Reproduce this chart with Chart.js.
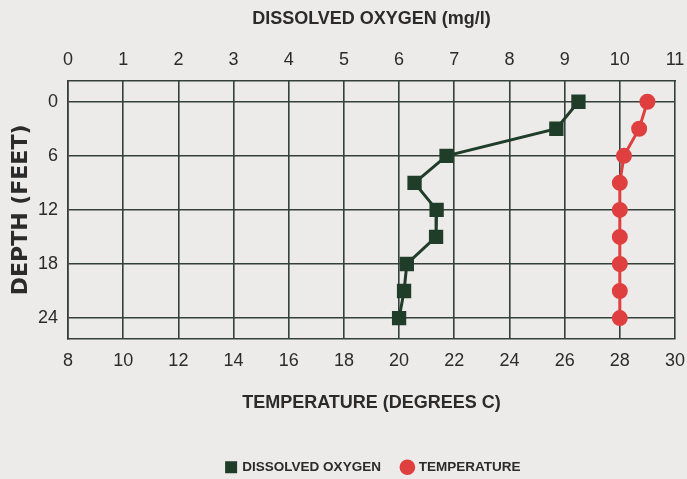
<!DOCTYPE html>
<html>
<head>
<meta charset="utf-8">
<script src="https://cdn.jsdelivr.net/npm/chart.js@4/dist/chart.umd.min.js"></script>
<style>
  html, body { margin: 0; padding: 0; background: #ecebea; }
  #wrap { width: 687px; height: 479px; position: relative; }
</style>
</head>
<body>
<div id="wrap"><canvas id="depth-chart"></canvas></div>
<script>
  // depth profile: oxygen on the top axis, temperature on the bottom one
  const depths = [0, 3, 6, 9, 12, 15, 18, 21, 24];
  const oxygen = [9.25, 8.85, 6.86, 6.28, 6.68, 6.67, 6.14, 6.09, 6.0];
  const temperature = [29.0, 28.7, 28.15, 28.0, 28.0, 28.0, 28.0, 28.0, 28.0];
  const depthTicks = [0, 6, 12, 18, 24];

  const SANS = "'Liberation Sans', Arial, sans-serif";
  const ink = "#2b2b2b";
  const gridColor = "#34403a";

  const ctx = document.getElementById("depth-chart");

  // legend sits under the plot, not under the whole canvas
  const legendShift = {
    id: "legendShift",
    afterLayout(chart) {
      chart.legend.left += 36;
      chart.legend.right += 36;
    },
  };

  // let the last tick label hang over the right edge like the original
  const noRightPad = (scale) => {
    scale.paddingRight = 0;
  };

  const data = {
    datasets: [
      {
        label: "DISSOLVED OXYGEN",
        data: depths.map((d, i) => ({ x: oxygen[i], y: d })),
        xAxisID: "x2",
        yAxisID: "y",
        showLine: true,
        borderColor: "#203d29",
        backgroundColor: "#203d29",
        borderWidth: 3,
        pointStyle: "rect",
        pointRadius: 8,
        pointHoverRadius: 8,
      },
      {
        label: "TEMPERATURE",
        data: depths.map((d, i) => ({ x: temperature[i], y: d })),
        xAxisID: "x",
        yAxisID: "y",
        showLine: true,
        borderColor: "#df3f3f",
        backgroundColor: "#df3f3f",
        borderWidth: 3,
        pointStyle: "circle",
        pointRadius: 6.5,
        pointHoverRadius: 6.5,
      },
    ],
  };

  const config = {
    type: "scatter",
    data: data,
    plugins: [legendShift],
    options: {
      responsive: true,
      maintainAspectRatio: false,
      animation: false,
      layout: {
        padding: { left: 0, right: 12, top: 0, bottom: -5 },
      },
      plugins: {
        legend: {
          position: "bottom",
          labels: {
            usePointStyle: true,
            boxWidth: 9,
            boxHeight: 9,
            padding: 22,
            color: ink,
            font: { family: SANS, size: 13.5, weight: "bold" },
          },
        },
        tooltip: { enabled: false },
      },
      scales: {
        x: {
          type: "linear",
          position: "bottom",
          min: 8,
          max: 30,
          afterFit: noRightPad,
          ticks: {
            stepSize: 2,
            padding: 11.4,
            color: ink,
            font: { family: SANS, size: 18 },
          },
          grid: { color: gridColor, lineWidth: 1.6, drawTicks: false, tickLength: 0 },
          border: { color: gridColor, width: 1.6 },
          title: {
            display: true,
            text: "TEMPERATURE (DEGREES C)",
            color: ink,
            font: { family: SANS, size: 18, weight: "bold" },
            padding: { top: 9, bottom: 24.7 },
          },
        },
        x2: {
          type: "linear",
          position: "top",
          min: 0,
          max: 11,
          afterFit: noRightPad,
          ticks: {
            stepSize: 1,
            padding: 10.2,
            color: ink,
            font: { family: SANS, size: 18 },
          },
          grid: { display: false, drawTicks: false, tickLength: 0 },
          border: { color: gridColor, width: 1.6 },
          title: {
            display: true,
            text: "DISSOLVED OXYGEN (mg/l)",
            color: ink,
            font: { family: SANS, size: 18, weight: "bold" },
            padding: { top: 8.2, bottom: 9.2 },
          },
        },
        y: {
          type: "linear",
          reverse: true,
          min: -2.3,
          max: 26.3,
          afterBuildTicks: (axis) => {
            axis.ticks = depthTicks.map((v) => ({ value: v }));
          },
          ticks: {
            padding: 10,
            color: ink,
            font: { family: SANS, size: 18 },
          },
          grid: { color: gridColor, lineWidth: 1.6, drawTicks: false, tickLength: 0 },
          border: { color: gridColor, width: 1.6 },
          title: {
            display: true,
            text: "DEPTH (FEET)",
            color: ink,
            font: { family: "'DejaVu Sans', sans-serif", size: 22, weight: "bold" },
            padding: { top: 7.8, bottom: -6.2 },
          },
        },
      },
    },
  };

  const chart = new Chart(ctx, config);
</script>
</body>
</html>
